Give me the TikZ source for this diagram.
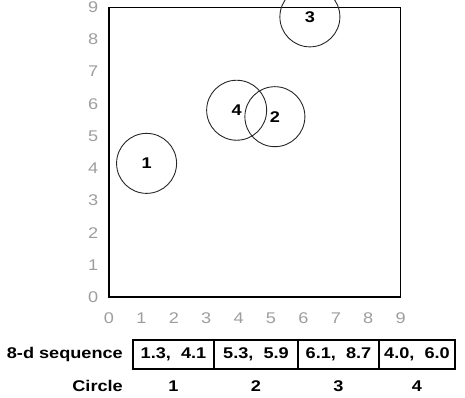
\documentclass[tikz,border=0pt]{standalone}
\usepackage{fontspec}
\setmainfont{Liberation Sans}[FakeStretch=1.17]
\usetikzlibrary{positioning}
\tikzset{
  tick/.style={text=black!38, inner sep=0pt, font=\fontsize{15.5}{16}\selectfont},
  ring/.style={circle, draw=black!85, line width=0.9pt, minimum size=60pt, inner sep=0pt, font=\fontsize{15.5}{16}\selectfont\bfseries},
  cell/.style={draw, line width=1.1pt, minimum height=29pt, inner sep=0pt, outer sep=0pt, font=\fontsize{15.5}{16}\selectfont\bfseries},
  lbl/.style={inner sep=0pt, font=\fontsize{15.5}{16}\selectfont\bfseries}
}

\begin{document}
\begin{tikzpicture}[x=1pt,y=1pt]
  \useasboundingbox (0,0) rectangle (465,397);
  % the plot
  \begin{scope}[shift={(109,100)}, x=32.4pt, y=32.2pt]
    \draw[line width=1.3pt] (0,0) rectangle (9,9);
    \foreach \k in {0,...,9}{
      \node[tick] (y\k) at (-0.49,\k) {\k};
      \node[tick] (x\k) at (\k,-0.65) {\k};
    }
    \node[ring] (k1) at (1.16,4.15) {1};
    \node[ring] (k2) at (5.12,5.6) {2};
    \node[ring] (k3) at (6.2,8.7) {3};
    \node[ring] (k4) at (3.94,5.8) {4};
  \end{scope}
  % the sequence table
  \node[cell, minimum width=81pt] (s1) at (173.5,42.5) {1.3,\ \ 4.1};
  \node[cell, minimum width=84pt, right=0pt of s1] (s2) {5.3,\ \ 5.9};
  \node[cell, minimum width=81pt, right=0pt of s2] (s3) {6.1,\ \ 8.7};
  \node[cell, minimum width=76pt, right=0pt of s3] (s4) {4.0,\ \ 6.0};
  \node[lbl, left=10pt of s1] (seq) {8-d sequence};
  \node[lbl, anchor=east] (circ) at ([yshift=-31.5pt]seq.east) {Circle};
  \foreach \k in {1,...,4}
    \node[lbl] (c\k) at ([yshift=-31.5pt]s\k.center) {\k};
\end{tikzpicture}
\end{document}
